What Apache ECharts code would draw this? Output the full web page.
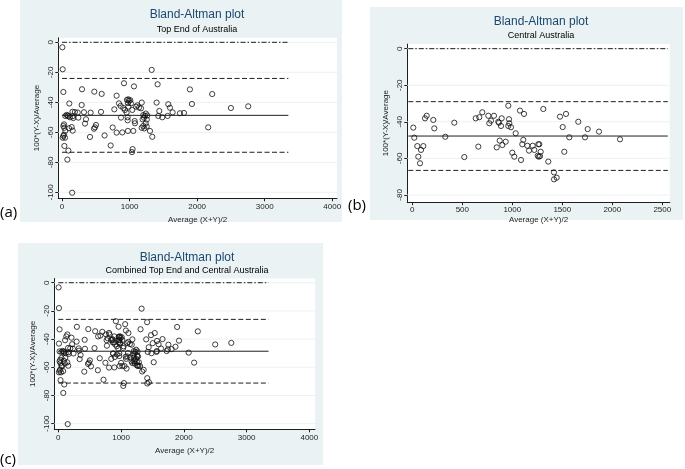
<!DOCTYPE html>
<html>
<head>
<meta charset="utf-8">
<script src="https://cdn.jsdelivr.net/npm/echarts@6/dist/echarts.min.js"></script>
<style>
html,body{margin:0;padding:0;background:#fff;}
#c{width:685px;height:469px;}
</style>
</head>
<body>
<div id="c"></div>
<script>
// ---------- DATA ----------
const topEndPoints = [
 [5,-3.3],[10,-18],[20,-33.1],[108,-40.8],
 [49,-49.1],[69,-48.4],[94,-49.3],[118,-50],[84,-48.8],
 [30,-54.7],[20,-55.8],[49,-59],[20,-62.4],[10,-63.6],[44,-63.6],[30,-61.6],[35,-69.1],[94,-72.2],[79,-78.2],[150,-100.3],
 [143,-56.5],[158,-58.9],[104,-57.3],[34,-57],
 [155,-46.3],[190,-46.5],[158,-49.3],[232,-46.8],[242,-50.2],[167,-50.5],
 [296,-31.3],[291,-41.8],[325,-46.6],[340,-54.2],[355,-51.3],[414,-63.1],[424,-46.9],
 [488,-56.7],[503,-55.1],[473,-57.6],[478,-32.9],[587,-34.4],[577,-46.4],
 [630,-62.1],[720,-68.8],[750,-56.8],[774,-44.7],[808,-35.6],[808,-60.2],[843,-40.7],[868,-42.4],[907,-43.8],[873,-50.2],[892,-60.1],[917,-27.3],[932,-45.1],
 [961,-38.4],[981,-38],[990,-39],[975,-40.5],[981,-42.9],[956,-46.9],[971,-50],[971,-52],[975,-59.1],[1020,-40.7],[1040,-45.1],[1055,-59.1],[1045,-71.2],[1035,-73.2],[1065,-29.4],
 [1010,-38.6],[1095,-42.9],[1115,-42],[1140,-43.5],[1180,-40.2],[1169,-44],[1203,-48.5],[1213,-50.3],[1193,-51.4],[1238,-54],[1203,-55.8],[1179,-57],[1218,-57.4],[1253,-56.2],[1228,-49],[1240,-47.5],[1255,-51.5],[1262,-48.8],[1302,-59.1],[1336,-63],[1080,-54],[1075,-52.5],
 [1327,-18.4],[1400,-40.2],[1415,-28],[1425,-49.1],[1440,-45.8],[1484,-50],[1573,-41.3],[1598,-43.6],[1563,-49.1],[1637,-46.7],[1746,-47.3],[1805,-47.1],[1893,-31.4],[1923,-41.1],[2164,-56.7],[2223,-34.5],[2500,-43.8],[2756,-42.7]
];
const centralPoints = [
 [10,-43.2],[20,-48.7],[50,-53.3],[60,-59.1],[77,-62.7],[87,-55.4],[110,-53.3],[127,-38.1],[144,-36.7],[210,-39],[220,-43.6],[330,-48.2],[420,-40.5],[520,-59.3],
 [634,-38.1],[670,-37.5],[700,-34.8],[660,-53.6],[760,-36.7],[770,-40.8],[787,-39.4],[817,-36.7],[844,-54],[860,-40],
 [867,-40.5],[894,-38.1],[887,-42.3],[960,-31.2],[967,-38.6],[970,-40.8],[960,-42.3],[987,-43],[1034,-46.3],[1077,-33.9],[1117,-35.7],
 [874,-50.3],[934,-50.9],[900,-52.7],[1000,-56.9],[1020,-59.1],[1087,-60.9],[1110,-49.9],[1100,-52.3],[1150,-53.1],[1167,-55.8],[1204,-53.1],[1220,-55.4],[1260,-52.3],[1270,-52.3],[1254,-58.6],[1265,-59.1],[1277,-58.8],[1284,-56.4],
 [1310,-33],[1360,-61.8],[1417,-67.7],[1417,-71.5],[1444,-70.6],[1477,-37.2],[1537,-35.7],[1504,-42.9],[1520,-56.4],[1570,-48.5],[1660,-40],[1727,-48.5],[1754,-44],[1867,-45.4],[2077,-49.6]
];
const combinedPoints = topEndPoints.concat(centralPoints);

// limits: [upper, mean, lower]
const topEndLimits = [-24.1, -48.7, -73.3];
const centralLimits = [-29.0, -47.8, -66.6];
const combinedLimits = [-26.0, -48.6, -71.2];

// reference-line x extents
const topEndLineX = [0, 3350];
const centralLineX = [-40, 2555];
const combinedLineX = [0, 3350];

const xTicksA = [0, 1000, 2000, 3000, 4000];
const xTicksB = [0, 500, 1000, 1500, 2000, 2500];
const yTicksA = [0, -20, -40, -60, -80, -100];
const yTicksB = [0, -20, -40, -60, -80];

const titles = ['Bland-Altman plot', 'Bland-Altman plot', 'Bland-Altman plot'];
const subtitles = ['Top End of Australia', 'Central Australia', 'Combined Top End and Central Australia'];
const panelLabels = ['(a)', '(b)', '(c)'];

// ---------- LAYOUT ----------
const panels = [
  {bg:[20,0,322,222], grid:[58.3,37.8,278.7,160.5], xr:[-55,4070], yr:[-104,3], xt:xTicksA, yt:yTicksA,
   pts:topEndPoints, lim:topEndLimits, lx:topEndLineX, tx:197, ty:15, sy:30, lab:[0,213]},
  {bg:[370,7,313,213], grid:[407.3,44.1,262.5,158.1], xr:[-50,2575], yr:[-84,2.5], xt:xTicksB, yt:yTicksB,
   pts:centralPoints, lim:centralLimits, lx:centralLineX, tx:541, ty:22, sy:36, lab:[348,206]},
  {bg:[18,243,305,222], grid:[54.3,278.5,260.7,150.8], xr:[-64,4090], yr:[-104,3], xt:xTicksA, yt:yTicksA,
   pts:combinedPoints, lim:combinedLimits, lx:combinedLineX, tx:187, ty:258, sy:271, lab:[0,460]}
];

const FONT = 'Liberation Sans, Arial, sans-serif';
const INK = '#1e1e1e';
const grids = [], xAxes = [], yAxes = [], series = [], graphics = [];
const plain = v => String(v);

panels.forEach((p, i) => {
  graphics.push({type:'rect', z:-10, shape:{x:p.bg[0], y:p.bg[1], width:p.bg[2], height:p.bg[3]}, style:{fill:'#eaf2f3'}});
  graphics.push({type:'text', x:p.tx, y:p.ty, style:{text:titles[i], fill:'#1a476f', font:'12px ' + FONT, textAlign:'center', textVerticalAlign:'middle'}});
  graphics.push({type:'text', x:p.tx, y:p.sy, style:{text:subtitles[i], fill:'#000', font:'9px ' + FONT, textAlign:'center', textVerticalAlign:'middle'}});
  graphics.push({type:'text', x:p.lab[0], y:p.lab[1], style:{text:panelLabels[i], fill:'#000', font:'15px "Open Sans", sans-serif', textAlign:'left', textVerticalAlign:'middle'}});

  grids.push({left:p.grid[0], top:p.grid[1], width:p.grid[2], height:p.grid[3], show:true, backgroundColor:'#fff', borderWidth:0});
  xAxes.push({
    gridIndex:i, type:'value', min:p.xr[0], max:p.xr[1],
    name:'Average (X+Y)/2', nameLocation:'middle', nameGap: i===1 ? 14 : 17,
    nameTextStyle:{fontFamily:FONT, fontSize:8, color:INK},
    axisLine:{show:true, onZero:false, lineStyle:{color:INK, width:1}},
    axisTick:{show:true, length:3, customValues:p.xt, lineStyle:{color:INK}},
    axisLabel:{customValues:p.xt, formatter:plain, fontFamily:FONT, fontSize:8, color:INK, margin:4},
    splitLine:{show:false}
  });
  yAxes.push({
    gridIndex:i, type:'value', min:p.yr[0], max:p.yr[1],
    name:'100*(Y-X)/Average', nameLocation:'middle', nameGap:18,
    nameTextStyle:{fontFamily:FONT, fontSize:8, color:INK},
    axisLine:{show:true, onZero:false, lineStyle:{color:INK, width:1}},
    axisTick:{show:true, length:3, customValues:p.yt, lineStyle:{color:INK}},
    axisLabel:{customValues:p.yt, formatter:plain, rotate:90, fontFamily:FONT, fontSize:8, color:INK, margin:4},
    splitLine:{show:false}
  });
  // gridlines
  p.yt.forEach(v => {
    series.push({type:'line', xAxisIndex:i, yAxisIndex:i, silent:true, symbol:'none', z:1,
      data:[[p.xr[0], v],[p.xr[1], v]], lineStyle:{color:'#eaf2f3', width:1}});
  });
  // zero line (dash-dot)
  series.push({type:'line', xAxisIndex:i, yAxisIndex:i, silent:true, symbol:'none', z:2,
    data:[[p.lx[0],0],[p.lx[1],0]], lineStyle:{color:INK, width:1, type:[5,2,1.5,2]}});
  // limits
  p.lim.forEach((v, k) => {
    series.push({type:'line', xAxisIndex:i, yAxisIndex:i, silent:true, symbol:'none', z:2,
      data:[[p.lx[0],v],[p.lx[1],v]], lineStyle:{color:INK, width:1, type: k===1 ? 'solid' : [5,2.5]}});
  });
  series.push({type:'scatter', xAxisIndex:i, yAxisIndex:i, z:3, symbol:'circle', symbolSize:5.2,
    data:p.pts, itemStyle:{color:'rgba(0,0,0,0)', borderColor:'#111', borderWidth:1}});
});

const chart = echarts.init(document.getElementById('c'), null, {renderer:'canvas'});
chart.setOption({
  animation:false,
  backgroundColor:'#fff',
  grid:grids, xAxis:xAxes, yAxis:yAxes, series:series, graphic:graphics
});
</script>
</body>
</html>
